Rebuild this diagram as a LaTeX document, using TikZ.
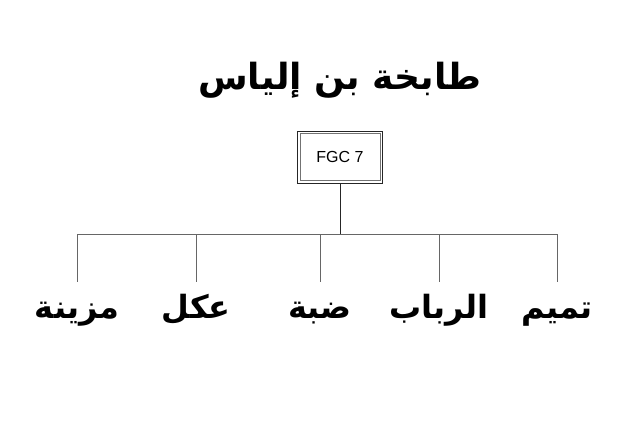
\documentclass[tikz,border=0pt]{standalone}
\usepackage{fontspec}
\usepackage{tikz}
\setsansfont{Liberation Sans}
\newfontfamily\arabicfont[Script=Arabic]{DejaVu Sans}
\TeXXeTstate=1

\begin{document}
\begin{tikzpicture}[
          x=1pt,
          y=-1pt,
          ttl/.style={font=\arabicfont\bfseries\fontsize{36}{42}\selectfont},
          lbl/.style={font=\arabicfont\bfseries\fontsize{32}{38}\selectfont, anchor=north, text height=33pt, text depth=12pt, inner ysep=3pt},
          box/.style={draw=black!85, line width=0.9pt, minimum width=85pt, minimum height=52pt, font=\sffamily\fontsize{16}{18}\selectfont},
          inbox/.style={draw=black!55, line width=0.5pt},
          ed/.style={line width=0.7pt, black!60},
        ]
      \useasboundingbox (0, 0) rectangle (640, 431);
      \node[ttl] (title) at (340, 80) {\beginR طابخة بن إلياس\endR};
      \node[box] (fgc) at (340, 157) {FGC 7};
      \draw[inbox] ([shift={(3pt,3pt)}]fgc.south west) rectangle ([shift={(-3pt,-3pt)}]fgc.north east);
      \coordinate (hub) at (340, 234);
      \draw[ed, black!85] (fgc.south) -- (hub);
      % sons
      \node[lbl] (muzayna) at (77, 282) {\beginR مزينة\endR};
      \node[lbl] (ukl) at (196, 282) {\beginR عكل\endR};
      \node[lbl] (dabba) at (320, 282) {\beginR ضبة\endR};
      \node[lbl] (ribab) at (439, 282) {\beginR الرباب\endR};
      \node[lbl] (tamim) at (557, 282) {\beginR تميم\endR};
      \coordinate (bmuzayna) at (77, 234);
      \coordinate (bukl) at (196, 234);
      \coordinate (bdabba) at (320, 234);
      \coordinate (bribab) at (439, 234);
      \coordinate (btamim) at (557, 234);
      \draw[ed] (bmuzayna) -- (btamim);
      \foreach \s in {muzayna, ukl, dabba, ribab, tamim}
        \draw[ed] (b\s) -- (\s.north);
    \end{tikzpicture}
\end{document}
